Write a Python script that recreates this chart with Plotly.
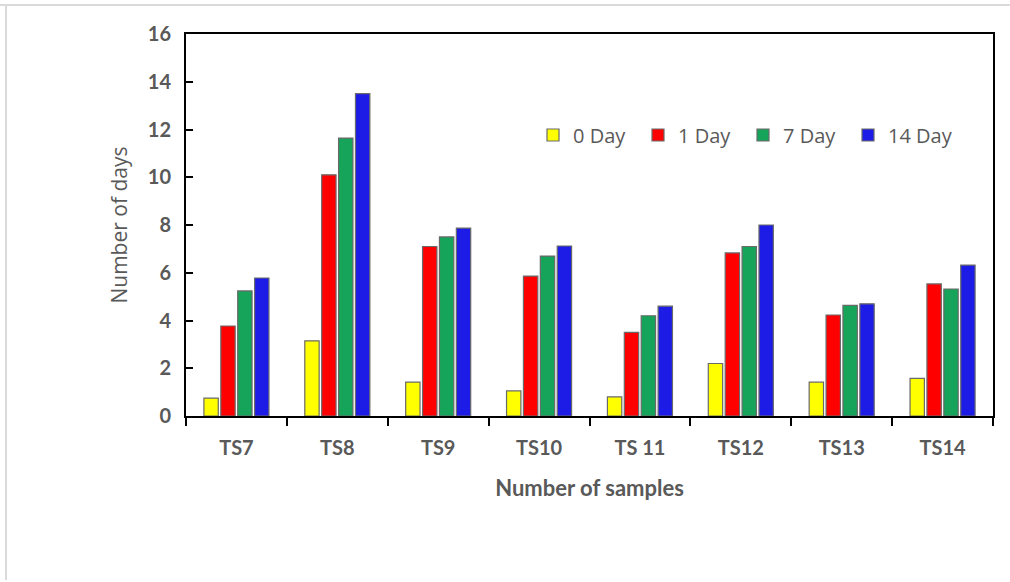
import plotly.graph_objects as go

categories = ["TS7", "TS8", "TS9", "TS10", "TS 11", "TS12", "TS13", "TS14"]
series_names = ["0 Day", "1 Day", "7 Day", "14 Day"]
day0 = [0.75, 3.15, 1.42, 1.05, 0.8, 2.2, 1.42, 1.58]
day1 = [3.77, 10.1, 7.1, 5.86, 3.5, 6.83, 4.23, 5.53]
day7 = [5.24, 11.64, 7.5, 6.7, 4.2, 7.1, 4.63, 5.32]
day14 = [5.78, 13.5, 7.87, 7.12, 4.6, 8.0, 4.7, 6.32]
y_ticks = [0, 2, 4, 6, 8, 10, 12, 14, 16]

colors = ["#FFFF00", "#FF0000", "#16A35A", "#1C1CE6"]
values = [day0, day1, day7, day14]

fig = go.Figure()
for name, vals, col in zip(series_names, values, colors):
    fig.add_trace(go.Bar(
        x=categories, y=vals, name=name,
        marker=dict(color=col, line=dict(color="#6a6a6a", width=1.2)),
    ))

W, H = 1010, 582
L, R, T, B = 186, 993, 34, 416

fig.update_layout(
    width=W, height=H,
    margin=dict(l=L, r=W - R, t=T, b=H - B),
    paper_bgcolor="white", plot_bgcolor="white",
    barmode="group", bargap=0.33, bargroupgap=0.15,
    showlegend=True,
    legend=dict(
        orientation="h", x=(533 - L) / (R - L), y=(B - 135) / (B - T),
        xanchor="left", yanchor="middle",
        font=dict(family="Open Sans", size=20, color="#595959"),
        bgcolor="rgba(0,0,0,0)", traceorder="normal",
        entrywidth=60, itemwidth=30,
    ),
    xaxis=dict(
        type="category", tickson="boundaries",
        ticks="outside", ticklen=8, tickwidth=2, tickcolor="black",
        showline=True, linecolor="black", linewidth=2, mirror=True,
        showgrid=False, ticklabelstandoff=13,
        tickfont=dict(family="Lato", size=20, color="#595959", weight="bold"),
        title=dict(text="Number of samples", standoff=23,
                   font=dict(family="Lato", size=22, color="#595959", weight="bold")),
    ),
    yaxis=dict(
        range=[0, 16], tickvals=y_ticks,
        ticks="inside", ticklen=7, tickwidth=2, tickcolor="black",
        showline=True, linecolor="black", linewidth=2, mirror=True,
        showgrid=False, zeroline=False, ticklabelstandoff=9,
        tickfont=dict(family="Lato", size=20, color="#595959", weight="bold"),
        title=dict(text="Number of days", standoff=14,
                   font=dict(family="Open Sans", size=21, color="#595959")),
    ),
    shapes=[
        dict(type="line", xref="paper", yref="paper",
             x0=(0 - L) / (R - L), x1=(W - L) / (R - L),
             y0=(B - 5) / (B - T), y1=(B - 5) / (B - T),
             line=dict(color="#dadada", width=2)),
        dict(type="line", xref="paper", yref="paper",
             x0=(6 - L) / (R - L), x1=(6 - L) / (R - L),
             y0=(B - 5) / (B - T), y1=(B - 580) / (B - T),
             line=dict(color="#dadada", width=2)),
    ],
)

fig.write_html("out.html", config={"displayModeBar": False},
               post_script="document.body.style.margin='0';document.body.style.overflow='hidden';")
